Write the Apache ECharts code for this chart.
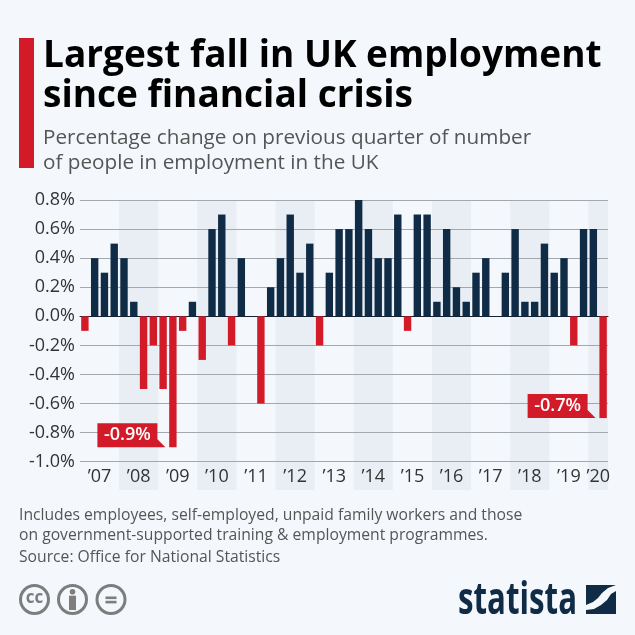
<!DOCTYPE html>
<html>
<head>
<meta charset="utf-8">
<style>
html,body{margin:0;padding:0;background:#f4f8fc}
#main{width:635px;height:635px}
</style>
<script src="https://cdn.jsdelivr.net/npm/echarts@6/dist/echarts.min.js"></script>
</head>
<body>
<div id="main"></div>
<script>
// quarters Q1 2007 - Q2 2020
const quarters = ["Q1 07","Q2 07","Q3 07","Q4 07","Q1 08","Q2 08","Q3 08","Q4 08","Q1 09","Q2 09","Q3 09","Q4 09","Q1 10","Q2 10","Q3 10","Q4 10","Q1 11","Q2 11","Q3 11","Q4 11","Q1 12","Q2 12","Q3 12","Q4 12","Q1 13","Q2 13","Q3 13","Q4 13","Q1 14","Q2 14","Q3 14","Q4 14","Q1 15","Q2 15","Q3 15","Q4 15","Q1 16","Q2 16","Q3 16","Q4 16","Q1 17","Q2 17","Q3 17","Q4 17","Q1 18","Q2 18","Q3 18","Q4 18","Q1 19","Q2 19","Q3 19","Q4 19","Q1 20","Q2 20"];
const changes = [-0.1,0.4,0.3,0.5, 0.4,0.1,-0.5,-0.2, -0.5,-0.9,-0.1,0.1, -0.3,0.6,0.7,-0.2, 0.4,0,-0.6,0.2, 0.4,0.7,0.3,0.5, -0.2,0.3,0.6,0.6, 0.8,0.6,0.4,0.4, 0.7,-0.1,0.7,0.7, 0.1,0.6,0.2,0.1, 0.3,0.4,0,0.3, 0.6,0.1,0.1,0.5, 0.3,0.4,-0.2,0.6, 0.6,-0.7];
// year label -> quarter position of the middle of that year on the 0..54 axis
const yearLabels = ["’07","’08","’09","’10","’11","’12","’13","’14","’15","’16","’17","’18","’19","’20"];
const yearCenters = [2,6,10,14,18,22,26,30,34,38,42,46,50,53];
// shaded years as [from, to] quarter positions
const shadedYears = [[4,8],[12,16],[20,24],[28,32],[36,40],[44,48],[52,54]];
const callouts = [["Q2 09",-0.9,"-0.9%"],["Q2 20",-0.7,"-0.7%"]];

const NAVY = '#0f2b46', RED = '#d31a28', GREY = '#7d7d7d', FONT = '"Open Sans", sans-serif';

function txt(x, y, text, size, lh, color, weight){
    return {type:'text', x:x, y:y, silent:true, style:{text:text, fontFamily:FONT, fontSize:size, fontWeight:weight||400, fill:color, lineHeight:lh}};
}
function ring(cx, cy){
    return {type:'circle', shape:{cx:cx, cy:cy, r:14}, silent:true, style:{fill:'none', stroke:GREY, lineWidth:3}};
}

let option = {
    backgroundColor:'#f4f8fc',
    animation:false,
    textStyle:{fontFamily:FONT},
    grid:{left:80, top:200, width:528, height:261.7, containLabel:false},
    xAxis:[
        {type:'category', data:quarters, axisLine:{onZero:true, lineStyle:{color:'#14202c', width:1}}, axisTick:{show:false}, axisLabel:{show:false}},
        {type:'value', min:0, max:54, position:'bottom', splitLine:{show:false}, axisLine:{show:false}, axisTick:{show:false},
            axisLabel:{customValues:yearCenters, margin:6, fontSize:18, color:'#333', fontFamily:FONT, hideOverlap:false,
                formatter:function(v){ return yearLabels[yearCenters.indexOf(v)]; }}}
    ],
    yAxis:{type:'value', min:-1, max:0.8, interval:0.2, axisLine:{show:false}, axisTick:{show:false},
        axisLabel:{margin:5, fontSize:18, color:'#333', fontFamily:FONT, formatter:function(v){ return v.toFixed(1)+'%'; }},
        splitLine:{lineStyle:{color:'#a3a8ad', width:1}}},
    series:[
        {
            type:'custom', xAxisIndex:1, yAxisIndex:0, z:-1, silent:true, clip:false,
            data:shadedYears,
            renderItem:function(params, api){
                let a = api.coord([api.value(0), 0.8]);
                let b = api.coord([api.value(1), -1.195]);
                return {type:'rect', shape:{x:a[0], y:a[1], width:b[0]-a[0], height:b[1]-a[1]}, style:{fill:'#e9eef5'}};
            },
            encode:{x:[0,1]}
        },
        {
            type:'bar', xAxisIndex:0, yAxisIndex:0, barWidth:7.4,
            data:changes,
            itemStyle:{color:function(p){ return p.value<0 ? RED : NAVY; }},
            markPoint:{
                silent:true,
                symbol:'path://M0 0H60V16L68 24H0Z',
                symbolSize:[68,24],
                symbolOffset:[-41.5,-12],
                itemStyle:{color:RED},
                label:{show:true, position:'inside', offset:[-4,0], color:'#fff', fontSize:18, fontWeight:600, fontFamily:FONT, formatter:'{b}'},
                data:callouts.map(function(c){ return {name:c[2], coord:[c[0], c[1]]}; })
            }
        }
    ],
    graphic:[
        {type:'rect', shape:{x:19, y:38, width:15, height:130}, silent:true, style:{fill:RED}},
        txt(43, 37, 'Largest fall in UK employment\nsince financial crisis', 37, 39.5, '#000', 700),
        txt(43, 125.5, 'Percentage change on previous quarter of number\nof people in employment in the UK', 20.7, 25, '#555'),
        txt(19, 505.5, 'Includes employees, self-employed, unpaid family workers and those\non government-supported training & employment programmes.', 15.7, 20, '#555'),
        txt(19, 547.8, 'Source: Office for National Statistics', 15.7, 19, '#555'),
        ring(34.5,599.5), ring(72.5,599.5), ring(111,599.5),
        {type:'text', x:34.5, y:598.5, silent:true, style:{text:'cc', fontFamily:FONT, fontSize:17, fontWeight:700, fill:GREY, align:'center', verticalAlign:'middle'}},
        {type:'circle', shape:{cx:72.5, cy:591.8, r:2.8}, silent:true, style:{fill:GREY}},
        {type:'rect', shape:{x:69, y:595.7, width:7, height:14.3}, silent:true, style:{fill:GREY}},
        {type:'rect', shape:{x:105.5, y:596.5, width:11, height:2.6}, silent:true, style:{fill:GREY}},
        {type:'rect', shape:{x:105.5, y:600.8, width:11, height:2.6}, silent:true, style:{fill:GREY}},
        {type:'text', x:458, y:579, scaleX:0.71, silent:true, style:{text:'statista', fontFamily:FONT, fontSize:44, fontWeight:700, fill:NAVY}},
        {type:'polygon', shape:{points:[[586,585],[616,585],[608,588],[602,593],[598,598],[593,602],[586,605]]}, silent:true, style:{fill:NAVY}},
        {type:'polygon', shape:{points:[[616,591],[616,614],[586,614],[586,610],[594,609],[601,605],[607,600],[611,594]]}, silent:true, style:{fill:NAVY}}
    ]
};

let myChart = echarts.init(document.getElementById('main'));
myChart.setOption(option);
</script>
</body>
</html>
